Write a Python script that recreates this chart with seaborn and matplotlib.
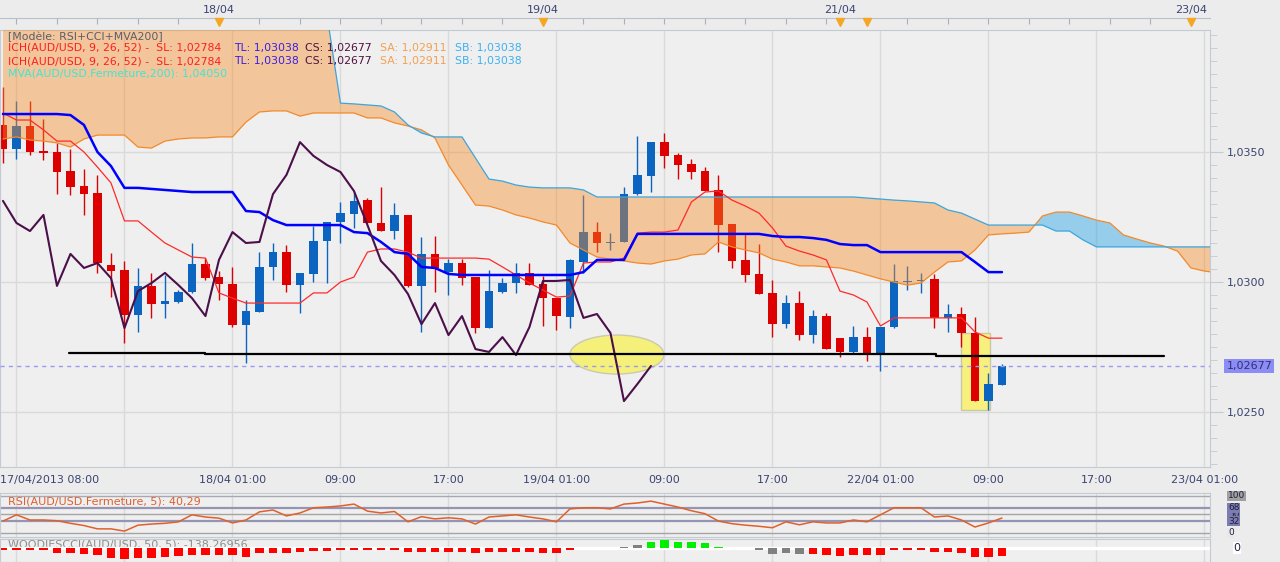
import numpy as np
import pandas as pd
import matplotlib
matplotlib.use("Agg")
import matplotlib.pyplot as plt
from matplotlib.patches import Ellipse, Rectangle
from matplotlib.ticker import FuncFormatter, MultipleLocator
import seaborn as sns

# AUD/USD hourly bars, 17/04/2013 08:00 -> 22/04/2013 10:00 (bar index 0..74)
opens = [1.03604, 1.03512, 1.03600, 1.03504, 1.03500, 1.03427, 1.03369, 1.03342, 1.03065, 1.03046,
         1.02873, 1.02985, 1.02915, 1.02923, 1.02962, 1.03069, 1.03019, 1.02992, 1.02835, 1.02885,
         1.03058, 1.03115, 1.02988, 1.03031, 1.03158, 1.03231, 1.03262, 1.03315, 1.03227, 1.03196,
         1.03258, 1.02985, 1.03108, 1.03038, 1.03073, 1.03019, 1.02823, 1.02962, 1.02996, 1.03035,
         1.02992, 1.02938, 1.02865, 1.03077, 1.03192, 1.03150, 1.03154, 1.03338, 1.03408, 1.03538,
         1.03488, 1.03454, 1.03427, 1.03354, 1.03223, 1.03085, 1.03031, 1.02958, 1.02838, 1.02919,
         1.02796, 1.02869, 1.02785, 1.02731, 1.02788, 1.02719, 1.02827, 1.03000, 1.03004, 1.03012,
         1.02862, 1.02877, 1.02804, 1.02542, 1.02604]
highs = [1.03750, 1.03696, 1.03696, 1.03627, 1.03535, 1.03512, 1.03435, 1.03412, 1.03112, 1.03081,
         1.03054, 1.03035, 1.03027, 1.02969, 1.03150, 1.03092, 1.03042, 1.03058, 1.02931, 1.03115,
         1.03150, 1.03142, 1.03035, 1.03215, 1.03231, 1.03308, 1.03346, 1.03323, 1.03365, 1.03304,
         1.03258, 1.03173, 1.03177, 1.03088, 1.03088, 1.03019, 1.03046, 1.03015, 1.03073, 1.03073,
         1.03023, 1.02938, 1.03088, 1.03335, 1.03231, 1.03188, 1.03365, 1.03562, 1.03538, 1.03573,
         1.03496, 1.03473, 1.03442, 1.03412, 1.03223, 1.03185, 1.03146, 1.03008, 1.02950, 1.02965,
         1.02892, 1.02881, 1.02785, 1.02831, 1.02827, 1.02827, 1.03069, 1.03062, 1.03035, 1.03031,
         1.02915, 1.02904, 1.02865, 1.02650, 1.02685]
lows = [1.03458, 1.03473, 1.03488, 1.03469, 1.03338, 1.03335, 1.03258, 1.03035, 1.02942, 1.02765,
        1.02808, 1.02862, 1.02862, 1.02919, 1.02958, 1.03008, 1.02931, 1.02827, 1.02688, 1.02885,
        1.03008, 1.02962, 1.02881, 1.03000, 1.02996, 1.03150, 1.03208, 1.03227, 1.03196, 1.03165,
        1.02981, 1.02808, 1.02962, 1.02950, 1.02988, 1.02804, 1.02823, 1.02958, 1.02958, 1.02988,
        1.02831, 1.02815, 1.02823, 1.03035, 1.03115, 1.03123, 1.03154, 1.03335, 1.03346, 1.03438,
        1.03396, 1.03396, 1.03350, 1.03115, 1.03054, 1.03000, 1.02954, 1.02788, 1.02823, 1.02777,
        1.02765, 1.02742, 1.02712, 1.02723, 1.02696, 1.02658, 1.02823, 1.02969, 1.02958, 1.02823,
        1.02808, 1.02750, 1.02542, 1.02508, 1.02604]
closes = [1.03512, 1.03600, 1.03500, 1.03496, 1.03423, 1.03365, 1.03338, 1.03073, 1.03042, 1.02873,
          1.02985, 1.02915, 1.02927, 1.02962, 1.03069, 1.03015, 1.02992, 1.02835, 1.02888, 1.03058,
          1.03115, 1.02988, 1.03035, 1.03158, 1.03231, 1.03265, 1.03312, 1.03227, 1.03196, 1.03258,
          1.02985, 1.03108, 1.03054, 1.03073, 1.03015, 1.02823, 1.02965, 1.02996, 1.03035, 1.02988,
          1.02938, 1.02869, 1.03085, 1.03192, 1.03150, 1.03154, 1.03338, 1.03412, 1.03538, 1.03485,
          1.03450, 1.03423, 1.03350, 1.03219, 1.03081, 1.03027, 1.02954, 1.02838, 1.02919, 1.02796,
          1.02869, 1.02742, 1.02731, 1.02788, 1.02719, 1.02827, 1.03004, 1.03004, 1.03008, 1.02862,
          1.02877, 1.02804, 1.02542, 1.02608, 1.02677]

# ichimoku lines
tenkan = [1.03650, 1.03623, 1.03623, 1.03585, 1.03542, 1.03542, 1.03500, 1.03442, 1.03381, 1.03235,
          1.03235, 1.03192, 1.03150, 1.03123, 1.03096, 1.03092, 1.02958, 1.02938, 1.02919, 1.02919,
          1.02919, 1.02919, 1.02919, 1.02958, 1.02958, 1.03000, 1.03019, 1.03115, 1.03127, 1.03127,
          1.03115, 1.03092, 1.03092, 1.03092, 1.03092, 1.03092, 1.03088, 1.03058, 1.03027, 1.02996,
          1.02969, 1.02942, 1.02946, 1.03073, 1.03077, 1.03077, 1.03092, 1.03188, 1.03192, 1.03192,
          1.03200, 1.03308, 1.03346, 1.03350, 1.03315, 1.03292, 1.03265, 1.03208, 1.03138, 1.03119,
          1.03104, 1.03085, 1.02965, 1.02950, 1.02923, 1.02831, 1.02862, 1.02862, 1.02862, 1.02862,
          1.02862, 1.02862, 1.02808, 1.02784, 1.02784]
kijun = [1.03646, 1.03646, 1.03646, 1.03646, 1.03646, 1.03642, 1.03604, 1.03500, 1.03446, 1.03362,
         1.03362, 1.03358, 1.03354, 1.03350, 1.03346, 1.03346, 1.03346, 1.03346, 1.03273, 1.03269,
         1.03238, 1.03219, 1.03219, 1.03219, 1.03219, 1.03219, 1.03192, 1.03188, 1.03154, 1.03115,
         1.03108, 1.03058, 1.03054, 1.03031, 1.03027, 1.03027, 1.03027, 1.03027, 1.03027, 1.03027,
         1.03027, 1.03027, 1.03027, 1.03038, 1.03085, 1.03085, 1.03085, 1.03185, 1.03185, 1.03185,
         1.03185, 1.03185, 1.03185, 1.03185, 1.03185, 1.03185, 1.03185, 1.03177, 1.03173, 1.03173,
         1.03169, 1.03162, 1.03146, 1.03142, 1.03142, 1.03115, 1.03115, 1.03115, 1.03115, 1.03115,
         1.03115, 1.03115, 1.03077, 1.03038, 1.03038]
# cloud, drawn 26 bars ahead (bar index 0..90)
senkou_a = [1.03550, 1.03558, 1.03546, 1.03542, 1.03535, 1.03519, 1.03550, 1.03565, 1.03565, 1.03565,
            1.03519, 1.03515, 1.03542, 1.03550, 1.03554, 1.03554, 1.03558, 1.03558, 1.03615, 1.03654,
            1.03658, 1.03658, 1.03638, 1.03650, 1.03650, 1.03650, 1.03650, 1.03631, 1.03631, 1.03612,
            1.03600, 1.03585, 1.03554, 1.03450, 1.03373, 1.03296, 1.03292, 1.03277, 1.03258, 1.03246,
            1.03231, 1.03219, 1.03150, 1.03123, 1.03096, 1.03088, 1.03081, 1.03073, 1.03069, 1.03081,
            1.03088, 1.03104, 1.03108, 1.03154, 1.03135, 1.03123, 1.03112, 1.03088, 1.03077, 1.03062,
            1.03062, 1.03058, 1.03054, 1.03042, 1.03027, 1.03012, 1.03000, 1.02988, 1.02996, 1.03038,
            1.03077, 1.03081, 1.03123, 1.03181, 1.03185, 1.03188, 1.03192, 1.03254, 1.03269, 1.03269,
            1.03254, 1.03238, 1.03227, 1.03181, 1.03165, 1.03150, 1.03138, 1.03119, 1.03054, 1.03042,
            1.03035]
senkou_b = [1.04050, 1.04050, 1.04050, 1.04050, 1.04050, 1.04050, 1.04050, 1.04050, 1.04050, 1.04050,
            1.04050, 1.04050, 1.04050, 1.04050, 1.04050, 1.04050, 1.04050, 1.04050, 1.04050, 1.04050,
            1.04050, 1.04050, 1.04050, 1.04050, 1.04027, 1.03688, 1.03685, 1.03681, 1.03677, 1.03654,
            1.03604, 1.03573, 1.03558, 1.03558, 1.03558, 1.03477, 1.03396, 1.03388, 1.03373, 1.03365,
            1.03362, 1.03362, 1.03362, 1.03354, 1.03327, 1.03327, 1.03327, 1.03327, 1.03327, 1.03327,
            1.03327, 1.03327, 1.03327, 1.03327, 1.03327, 1.03327, 1.03327, 1.03327, 1.03327, 1.03327,
            1.03327, 1.03327, 1.03327, 1.03327, 1.03323, 1.03319, 1.03315, 1.03312, 1.03308, 1.03304,
            1.03277, 1.03265, 1.03242, 1.03219, 1.03219, 1.03219, 1.03219, 1.03219, 1.03196, 1.03196,
            1.03162, 1.03135, 1.03135, 1.03135, 1.03135, 1.03135, 1.03135, 1.03135, 1.03135, 1.03135,
            1.03135]
chikou_shift = 26

rsi = [32, 49, 35, 35, 33, 26, 20, 11, 11, 5,
       21, 24, 26, 30, 49, 43, 40, 27, 35, 57,
       62, 46, 54, 68, 70, 73, 78, 59, 54, 58,
       30, 44, 38, 41, 38, 24, 43, 46, 49, 43,
       38, 30, 65, 68, 68, 65, 78, 81, 86, 78,
       70, 60, 52, 32, 25, 21, 18, 14, 30, 22,
       30, 27, 27, 35, 30, 49, 68, 68, 68, 43,
       46, 35, 16, 27, 40.29]
rsi_levels = [100, 68, 50, 32, 0]

nan = float("nan")
cci = [-28, -28, -28, -28, -83, -83, -94, -122, -166, -194,
       -177, -166, -149, -133, -122, -111, -111, -122, -149, -83,
       -77, -77, -66, -55, -50, -28, -28, -28, -28, -28,
       -66, -66, -66, -66, -66, -83, -66, -66, -66, -66,
       -77, -83, -39, nan, nan, nan, 25, 55, 102, 130,
       102, 102, 85, 25, nan, nan, -28, -105, -85, -95,
       -108, -113, -136, -113, -113, -113, -40, -28, -28, -62,
       -74, -85, -153, -153, -138.27]
cci_state = ("rrrrrrrrrr" "rrrrrrrrrr" "rrrrrrrrrr" "rrrrrrrrrr"
             "rrr---kkgg" "gggg--kkkk" "rrrrrrrrrr" "rrrrr")

bottom_labels = {17: "18/04 01:00", 25: "09:00", 33: "17:00", 41: "19/04 01:00",
                 49: "09:00", 57: "17:00", 65: "22/04 01:00", 73: "09:00",
                 81: "17:00", 89: "23/04 01:00"}
top_labels = {16: "18/04", 40: "19/04", 62: "21/04", 88: "23/04"}
top_markers = [16, 40, 62, 64, 88]

# hand drawn annotations
support_x = [4.9, 15.0, 15.0, 69.1, 69.1, 86.0]
support_y = [1.02727, 1.02727, 1.02723, 1.02723, 1.02715, 1.02715]
highlight_ellipse = (45.48, 1.02721, 6.96, 0.0015)
highlight_box = (70.96, 1.02508, 2.15, 0.00296)

legend_rows = [
    [(8, 37, "[Modèle: RSI+CCI+MVA200]", "#5c5c6c")],
    [(8, 48, "ICH(AUD/USD, 9, 26, 52) -  SL: 1,02784", "#ff1e1e"), (234, 48, "TL: 1,03038", "#3a1ee0"),
     (305, 48, "CS: 1,02677", "#4e1040"), (380, 48, "SA: 1,02911", "#f4a050"), (455, 48, "SB: 1,03038", "#3cb0f0")],
    [(8, 61, "ICH(AUD/USD, 9, 26, 52) -  SL: 1,02784", "#ff1e1e"), (234, 61, "TL: 1,03038", "#3a1ee0"),
     (305, 61, "CS: 1,02677", "#4e1040"), (380, 61, "SA: 1,02911", "#f4a050"), (455, 61, "SB: 1,03038", "#3cb0f0")],
    [(8, 74, "MVA(AUD/USD.Fermeture,200): 1,04050", "#3ee6d6")],
]

sns.set_style("white")
plt.rcParams["font.family"] = ["DejaVu Sans"]
plt.rcParams["font.size"] = 8

BG = "#efefef"
FRAME = "#c4cad4"
GRID = "#dadada"
TXT = "#3c4470"
UP, DOWN = "#0a64c0", "#dc0000"

W, H = 1280, 562
fig = plt.figure(figsize=(W / 100, H / 100), dpi=100, facecolor="#ececec")


def box(x0, y0, x1, y1):
    return fig.add_axes([x0 / W, 1 - y1 / H, (x1 - x0) / W, (y1 - y0) / H])


ax = box(0, 30, 1210, 467)
ax_rsi = box(0, 493, 1210, 537)
ax_cci = box(0, 539, 1210, 562)
XMIN, XMAX = -0.22, 89.41
grid_x = np.arange(1, 90, 8)

for a in (ax, ax_rsi, ax_cci):
    a.set_facecolor(BG)
    a.set_xlim(XMIN, XMAX)
    for s in a.spines.values():
        s.set_color(FRAME)
    a.vlines(grid_x, 0, 1, transform=a.get_xaxis_transform(), color=GRID, lw=1, zorder=0)

# ---- main price panel
df = pd.DataFrame({"open": opens, "high": highs, "low": lows, "close": closes})
df["bar"] = np.arange(len(df))
df["color"] = np.where(df["close"] >= df["open"], UP, DOWN)
body_lo = df[["open", "close"]].min(axis=1)
body_h = (df["close"] - df["open"]).abs().clip(lower=0.00005)

ax.add_patch(Ellipse(highlight_ellipse[:2], highlight_ellipse[2], highlight_ellipse[3],
                     facecolor="#f5f07a", edgecolor="#c9c9b4", lw=1, zorder=1.5))
ax.add_patch(Rectangle(highlight_box[:2], highlight_box[2], highlight_box[3],
                       facecolor="#f7f07c", edgecolor="#c9c9a8", lw=1, zorder=1.5))

ax.vlines(df["bar"], df["low"], df["high"], colors=df["color"], lw=1, zorder=2)
ax.bar(df["bar"], body_h, bottom=body_lo, width=0.6, color=df["color"], lw=0, zorder=2.5)

cx = np.arange(len(senkou_a))
sa = np.array(senkou_a)
sb = np.array(senkou_b)
ax.fill_between(cx, sa, sb, where=sa <= sb, interpolate=True, color="#f78b26", alpha=0.42, lw=0, zorder=3)
ax.fill_between(cx, sa, sb, where=sa >= sb, interpolate=True, color="#1ca0e7", alpha=0.42, lw=0, zorder=3)
sns.lineplot(x=cx, y=sa, ax=ax, color="#f4892a", lw=0.9, zorder=4)
sns.lineplot(x=cx, y=sb, ax=ax, color="#3aa6de", lw=0.9, zorder=4)

sns.lineplot(x=df["bar"], y=tenkan, ax=ax, color="#ff2a2a", lw=0.9, zorder=5)
sns.lineplot(x=df["bar"], y=kijun, ax=ax, color="#0000ff", lw=1.8, zorder=5)
sns.lineplot(x=df["bar"].to_numpy()[chikou_shift:] - chikou_shift, y=df["close"].to_numpy()[chikou_shift:],
             ax=ax, color="#4b0f4a", lw=1.5, zorder=5)
ax.plot(support_x, support_y, color="black", lw=1.6, zorder=5)
ax.axhline(closes[-1], color="#9a9af0", ls=(0, (3, 3)), lw=1, zorder=4.5)

ax.set_ylim(1.022885, 1.039692)
ax.set_xlabel("")
ax.set_ylabel("")
ax.yaxis.tick_right()
ax.yaxis.set_major_locator(MultipleLocator(0.005))
ax.yaxis.set_minor_locator(MultipleLocator(0.0005))
ax.yaxis.set_major_formatter(FuncFormatter(lambda v, p: f"{v:.4f}".replace(".", ",")))
ax.tick_params(axis="y", which="major", length=9, color=FRAME, labelcolor=TXT, labelsize=8, pad=3)
ax.tick_params(axis="y", which="minor", length=5, color=FRAME)
ax.grid(axis="y", which="major", color=GRID, lw=1)
ax.set_axisbelow(True)

ax.set_xticks(np.arange(1, 90, 2))
ax.set_xticklabels([bottom_labels.get(i, "") for i in range(1, 90, 2)])
ax.set_xticks(np.arange(0, 90), minor=True)
ax.tick_params(axis="x", which="major", direction="in", length=4, color="#a8b0bc",
               labelcolor=TXT, labelsize=8, pad=6)
ax.tick_params(axis="x", which="minor", direction="in", length=2, color="#a8b0bc")
ax.text(0, -13 / 437, "17/04/2013 08:00", transform=ax.transAxes, ha="left", va="center",
        color=TXT, fontsize=8)

ax.text(1.0135, closes[-1], f"{closes[-1]:.5f}".replace(".", ","),
        transform=ax.get_yaxis_transform(), ha="left", va="center", color="#303070", fontsize=8,
        bbox=dict(facecolor="#8c8cf6", edgecolor="none", pad=1.5), clip_on=False)

sec = ax.secondary_xaxis(1 + 12 / 437)
top_ticks = sorted(set(range(1, 90, 3)) | set(top_labels))
sec.set_xticks(top_ticks)
sec.set_xticklabels([top_labels.get(i, "") for i in top_ticks])
sec.tick_params(direction="in", length=4, color="#a8b0bc", labelcolor=TXT, labelsize=8, pad=2)
sec.spines["top"].set_color("#b8c0cc")
ax.plot(top_markers, np.full(len(top_markers), 1.019), "v", transform=ax.get_xaxis_transform(),
        clip_on=False, color="#f5a623", ms=6, zorder=10)

for row in legend_rows:
    for x, y, s, c in row:
        fig.text(x / W, 1 - y / H, s, color=c, fontsize=7.8, ha="left", va="center")

# ---- RSI panel
level_colors = ["#a8a8b4", "#9494b4", "#a4a4a4", "#9494b4", "#a4a4a4"]
level_widths = [1, 1.6, 1, 1.6, 1]
for lvl, c, w in zip(rsi_levels, level_colors, level_widths):
    ax_rsi.axhline(lvl, color=c, lw=w, zorder=1)
sns.lineplot(x=df["bar"], y=rsi, ax=ax_rsi, color="#e0602c", lw=1.1, zorder=3)
ax_rsi.set_ylim(-11, 108)
ax_rsi.set_xticks([])
ax_rsi.set_yticks([])
ax_rsi.set_xlabel("")
ax_rsi.set_ylabel("")
ax_rsi.text(8 / 1210, 0.8, "RSI(AUD/USD.Fermeture, 5): 40,29", transform=ax_rsi.transAxes,
            color="#e0602c", fontsize=8, va="center")
rsi_label_style = {100: "#a0a0a0", 68: "#7c7cae", 50: "#7c7cae", 32: "#7c7cae", 0: "#e8e8e8"}
for lvl in [50, 100, 68, 32, 0]:
    ax_rsi.text(1.0148, lvl, str(lvl), transform=ax_rsi.get_yaxis_transform(), ha="left",
                va="center", fontsize=6.5, color="#202040", clip_on=False,
                bbox=dict(facecolor=rsi_label_style[lvl], edgecolor="none", pad=0.3))

# ---- Woodies CCI panel
cci_colors = {"r": "#ff0000", "g": "#00ee00", "k": "#808080", "-": "#808080"}
cdf = pd.DataFrame({"bar": df["bar"], "cci": cci, "state": list(cci_state)}).dropna()
ax_cci.axhline(0, color="white", lw=2.4, zorder=1)
ax_cci.bar(cdf["bar"], cdf["cci"], width=0.65, color=[cci_colors[s] for s in cdf["state"]],
           lw=0, zorder=2)
ax_cci.set_ylim(-238, 153)
ax_cci.set_xticks([])
ax_cci.set_yticks([])
ax_cci.text(8 / 1210, 0.74, "WOODIESCCI(AUD/USD, 50, 5): -138,26956", transform=ax_cci.transAxes,
            color="#8c8c8c", fontsize=8, va="center", zorder=0.5)
ax_cci.text(1.0195, 0, "0", transform=ax_cci.get_yaxis_transform(), ha="left", va="center",
            fontsize=8, color="#202040", clip_on=False,
            bbox=dict(facecolor="white", edgecolor="none", pad=0.5))

fig.savefig("out.png", dpi=100, facecolor=fig.get_facecolor())
